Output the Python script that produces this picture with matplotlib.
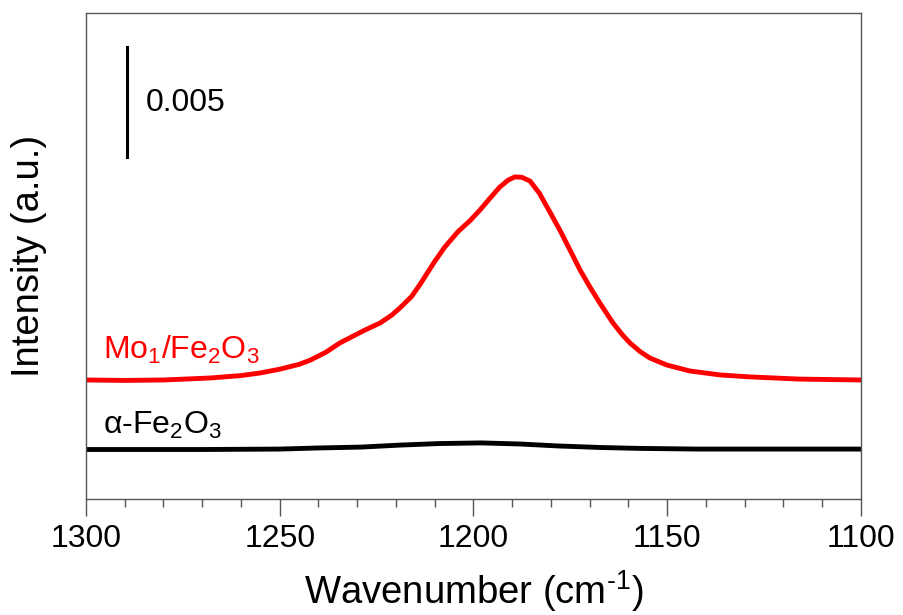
import matplotlib
matplotlib.use('Agg')
import matplotlib.pyplot as plt

plt.rcParams['font.family'] = ['Liberation Sans', 'DejaVu Sans']
plt.rcParams['mathtext.fontset'] = 'custom'
plt.rcParams['mathtext.rm'] = 'Liberation Sans'
plt.rcParams['mathtext.it'] = 'Liberation Sans:italic'

# wavenumber (cm-1) and intensity (a.u.)
wn_mo = [1300, 1290, 1280, 1268, 1260, 1255, 1250, 1245, 1242, 1238, 1234.5, 1231, 1228,
         1224.1, 1221, 1219.0, 1216, 1213.8, 1210, 1207.4, 1204, 1200.9, 1198.3, 1195.5,
         1193.2, 1191, 1189.3, 1187.5, 1185.4, 1183, 1180.3, 1177.5, 1175.1, 1172.5, 1170,
         1167.4, 1164.0, 1161.5, 1159.6, 1157, 1154.5, 1150.1, 1144.2, 1136.4, 1128.7,
         1115.8, 1100]
int_mo = [0.00541, 0.00539, 0.00541, 0.00550, 0.00561, 0.00573, 0.00590, 0.00612, 0.00632,
          0.00668, 0.00709, 0.00741, 0.00768, 0.00800, 0.00837, 0.00868, 0.00920, 0.00975,
          0.01080, 0.01145, 0.01215, 0.01265, 0.01314, 0.01372, 0.01418, 0.01450, 0.01464,
          0.01462, 0.01445, 0.01390, 0.01305, 0.01215, 0.01132, 0.01041, 0.00965, 0.00891,
          0.00800, 0.00745, 0.00709, 0.00670, 0.00641, 0.00609, 0.00582, 0.00564, 0.00555,
          0.00545, 0.00541]

wn_fe = [1300, 1270, 1250, 1240, 1229, 1219, 1209, 1198, 1188, 1178, 1167, 1157, 1142, 1100]
int_fe = [0.00225, 0.00225, 0.00227, 0.00232, 0.00236, 0.00245, 0.00252, 0.00255, 0.00250,
          0.00241, 0.00234, 0.00230, 0.00227, 0.00227]

fig = plt.figure(figsize=(9.04, 6.15), dpi=100)
ax = fig.add_axes([0.0951, 0.1886, 0.8573, 0.7903])

ax.plot(wn_mo, int_mo, color='red', lw=3.5, solid_joinstyle='round')
ax.plot(wn_fe, int_fe, color='black', lw=3.5, solid_joinstyle='round')

# scale bar
ax.plot([1289.4, 1289.4], [0.01555, 0.02055], color='black', lw=2.2)
ax.text(1284.5, 0.0180, '0.005', fontsize=23, va='center', ha='left')

ax.text(1295.6, 0.00677, r'Mo$_1$/Fe$_2$O$_3$', color='red', fontsize=23, va='center', ha='left')
ax.text(1295.6, 0.00336, r'α-Fe$_2$O$_3$', color='black', fontsize=23, va='center', ha='left')

ax.set_xlim(1300, 1100)
ax.set_ylim(0, 0.02209)
ax.set_xticks([1300, 1250, 1200, 1150, 1100])
ax.set_xticks(range(1100, 1301, 10), minor=True)
ax.set_yticks([])
ax.tick_params(axis='x', which='major', direction='out', length=12, width=1, labelsize=23, pad=6, color='#555555')
ax.tick_params(axis='x', which='minor', direction='out', length=6, width=1, color='#555555')
for s in ax.spines.values():
    s.set_color('#555555')
    s.set_linewidth(1)

ax.set_xlabel(r'Wavenumber (cm$^{\text{-}1}$)', fontsize=27.5, labelpad=10)
ax.set_ylabel('Intensity (a.u.)', fontsize=27.5, labelpad=28)

fig.savefig('out.png', dpi=100)
